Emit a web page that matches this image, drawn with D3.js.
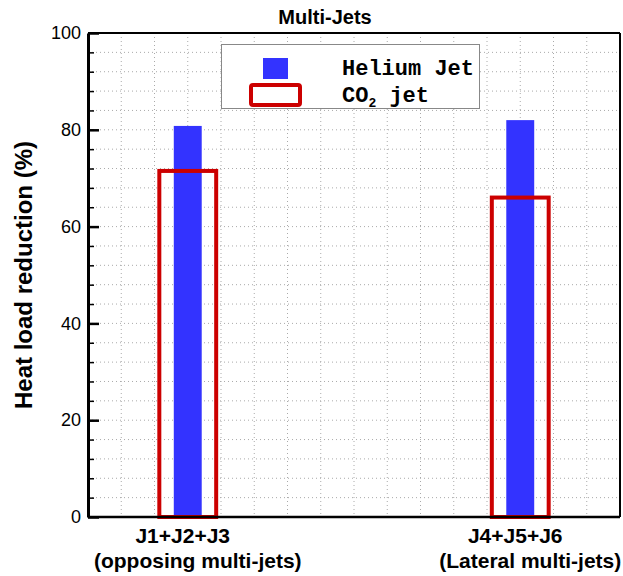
<!DOCTYPE html>
<html>
<head>
<meta charset="utf-8">
<script src="https://cdn.jsdelivr.net/npm/d3@7"></script>
<style>
  body { margin: 0; background: #fff; }
  svg { display: block; }
</style>
</head>
<body>
<svg></svg>
<script>
var WIDTH = 623;
var HEIGHT = 576;

// data
var categories = ['J1+J2+J3', 'J4+J5+J6'];
var subLabels = ['(opposing multi-jets)', '(Lateral multi-jets)'];
var heliumValues = [80.8, 82.0];
var co2Values = [71.5, 66.0];
var yTicks = [0, 20, 40, 60, 80, 100];

var margin = {top: 33, right: 3, bottom: 59, left: 88};
var w = WIDTH - margin.left - margin.right;
var h = HEIGHT - margin.top - margin.bottom;

var svg = d3.select('svg')
  .attr('width', WIDTH)
  .attr('height', HEIGHT);

var g = svg.append('g')
  .attr('transform', 'translate(' + margin.left + ',' + margin.top + ')');

var yScale = d3.scaleLinear().domain([0, 100]).range([h, 0]);
var xScale = d3.scalePoint().domain(categories).range([0, w]).padding(0.3);
// grid in 16 equal columns
var gridScale = d3.scaleLinear().domain([0, 16]).range([0, w]);

// dotted grid
g.append('g')
  .selectAll('line')
  .data(d3.range(4, 100, 4))
  .enter()
  .append('line')
  .attr('x1', 0)
  .attr('x2', w)
  .attr('y1', function(d) { return yScale(d); })
  .attr('y2', function(d) { return yScale(d); })
  .attr('stroke', '#aaa')
  .attr('stroke-width', 1)
  .attr('stroke-dasharray', '1,3');

g.append('g')
  .selectAll('line')
  .data(d3.range(1, 16))
  .enter()
  .append('line')
  .attr('x1', function(d) { return gridScale(d); })
  .attr('x2', function(d) { return gridScale(d); })
  .attr('y1', 0)
  .attr('y2', h)
  .attr('stroke', '#aaa')
  .attr('stroke-width', 1)
  .attr('stroke-dasharray', '1,3');

// bars
var blueW = gridScale(0.84);
var redW = gridScale(1.71);

g.selectAll('rect.helium')
  .data(heliumValues)
  .enter()
  .append('rect')
  .attr('class', 'helium')
  .attr('x', function(d, i) { return xScale(categories[i]) - blueW / 2; })
  .attr('y', function(d) { return yScale(d); })
  .attr('width', blueW)
  .attr('height', function(d) { return h - yScale(d); })
  .attr('fill', '#3333ff');

g.selectAll('rect.co2')
  .data(co2Values)
  .enter()
  .append('rect')
  .attr('class', 'co2')
  .attr('x', function(d, i) { return xScale(categories[i]) - redW / 2; })
  .attr('y', function(d) { return yScale(d); })
  .attr('width', redW)
  .attr('height', function(d) { return h - yScale(d); })
  .attr('fill', 'none')
  .attr('stroke', '#cc0000')
  .attr('stroke-width', 4);

// frame
g.append('line').attr('x1', 0).attr('x2', w).attr('y1', 0).attr('y2', 0)
  .attr('stroke', '#000').attr('stroke-width', 2);
g.append('line').attr('x1', w).attr('x2', w).attr('y1', 0).attr('y2', h)
  .attr('stroke', '#000').attr('stroke-width', 2);
g.append('line').attr('x1', 0).attr('x2', w).attr('y1', h).attr('y2', h)
  .attr('stroke', '#000').attr('stroke-width', 2.5);

// y axis, minor ticks then major
var minorAxis = d3.axisLeft(yScale)
  .tickValues(d3.range(4, 100, 4))
  .tickSize(-6)
  .tickFormat('');
g.append('g').call(minorAxis)
  .call(function(sel) {
    sel.select('.domain').remove();
    sel.selectAll('line').attr('stroke', '#000').attr('stroke-width', 1.5);
  });

var yAxis = d3.axisLeft(yScale)
  .tickValues(yTicks)
  .tickSizeInner(-11)
  .tickSizeOuter(0)
  .tickPadding(7);
g.append('g').call(yAxis)
  .call(function(sel) {
    sel.select('.domain').attr('stroke', '#000').attr('stroke-width', 3);
    sel.selectAll('line').attr('stroke', '#000').attr('stroke-width', 2.5);
    sel.selectAll('text')
      .attr('fill', '#000')
      .style('font-family', 'Liberation Sans, Arial, sans-serif')
      .style('font-size', '18px');
  });

// x labels
var xLabels = g.append('g');
xLabels.selectAll('text.main')
  .data(categories)
  .enter()
  .append('text')
  .attr('class', 'main')
  .attr('x', function(d) { return xScale(d) - 5; })
  .attr('y', h + 26)
  .attr('text-anchor', 'middle')
  .style('font-family', 'Liberation Sans, Arial, sans-serif')
  .style('font-weight', 'bold')
  .style('font-size', '21px')
  .text(function(d) { return d; });

xLabels.selectAll('text.sub')
  .data(subLabels)
  .enter()
  .append('text')
  .attr('class', 'sub')
  .attr('x', function(d, i) { return xScale(categories[i]) + 10; })
  .attr('y', h + 51)
  .attr('text-anchor', 'middle')
  .style('font-family', 'Liberation Sans, Arial, sans-serif')
  .style('font-weight', 'bold')
  .style('font-size', '21px')
  .text(function(d) { return d; });

// y axis title
svg.append('text')
  .attr('transform', 'translate(32,' + (margin.top + h / 2) + ') rotate(-90)')
  .attr('text-anchor', 'middle')
  .style('font-family', 'Liberation Sans, Arial, sans-serif')
  .style('font-weight', 'bold')
  .style('font-size', '24px')
  .text('Heat load reduction (%)');

// title
svg.append('text')
  .attr('x', 325)
  .attr('y', 24)
  .attr('text-anchor', 'middle')
  .style('font-family', 'Liberation Sans, Arial, sans-serif')
  .style('font-weight', 'bold')
  .style('font-size', '20px')
  .text('Multi-Jets');

// legend
var legend = svg.append('g');
legend.append('rect')
  .attr('x', 221.5).attr('y', 44.5)
  .attr('width', 258).attr('height', 64)
  .attr('fill', '#fff')
  .attr('stroke', '#888')
  .attr('stroke-width', 1);
legend.append('rect')
  .attr('x', 263).attr('y', 58)
  .attr('width', 25).attr('height', 21)
  .attr('fill', '#3333ff');
legend.append('rect')
  .attr('x', 251).attr('y', 85)
  .attr('width', 49).attr('height', 20)
  .attr('rx', 2)
  .attr('fill', 'none')
  .attr('stroke', '#cc0000')
  .attr('stroke-width', 4);

var legendFont = 'Liberation Mono, Courier New, monospace';
legend.append('text')
  .attr('x', 342).attr('y', 75)
  .style('font-family', legendFont)
  .style('font-weight', 'bold')
  .style('font-size', '22px')
  .text('Helium Jet');

var co2Text = legend.append('text')
  .attr('x', 342).attr('y', 102)
  .style('font-family', legendFont)
  .style('font-weight', 'bold')
  .style('font-size', '22px');
co2Text.append('tspan').text('CO');
co2Text.append('tspan').attr('dy', 5).style('font-size', '13px').text('2');
co2Text.append('tspan').attr('dy', -5).text(' jet');
</script>
</body>
</html>
